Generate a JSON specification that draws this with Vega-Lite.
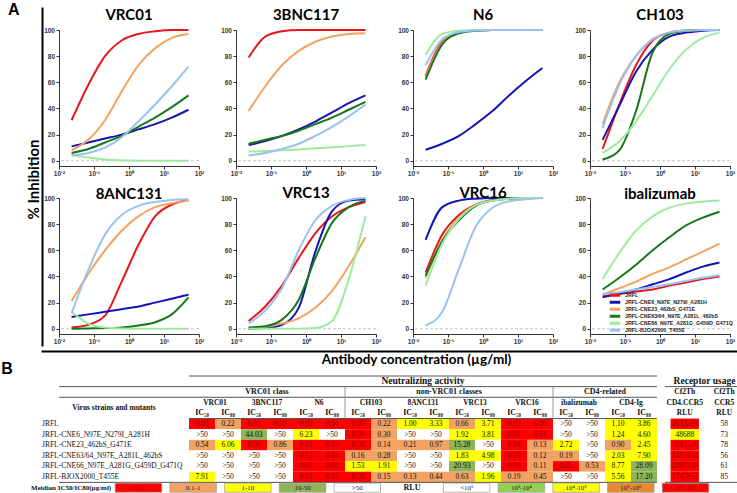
{
"$schema":"https://vega.github.io/schema/vega-lite/v6.json",
"background":"white",
"padding":{"left":1,"top":2,"right":0,"bottom":0},
"datasets":{
"curves":[
{"p":"VRC01","v":"JRFL","c":[0.0229,0.0686,0.206,0.617,1.85,5.56,16.7,50],"i":[31,58,80,92,97,99,100,100]},
{"p":"VRC01","v":"JRFL-CNE6_N97E_N279I_A281H","c":[0.0229,0.0686,0.206,0.617,1.85,5.56,16.7,50],"i":[11,14,17,20,24,28,33,39]},
{"p":"VRC01","v":"JRFL-CNE23_462bS_G471E","c":[0.0229,0.0686,0.206,0.617,1.85,5.56,16.7,50],"i":[8,16,31,53,73,86,94,97]},
{"p":"VRC01","v":"JRFL-CNE63/64_N97E_A281L_462bS","c":[0.0229,0.0686,0.206,0.617,1.85,5.56,16.7,50],"i":[6,9,14,19,26,33,41,50]},
{"p":"VRC01","v":"JRFL-CNE66_N97E_A281G_G459D_G471Q","c":[0.0229,0.0686,0.206,0.617,1.85,5.56,16.7,50],"i":[4.5,2.5,1,0.4,0.1,0,0,0]},
{"p":"VRC01","v":"JRFL-BJOX2000_T455E","c":[0.0229,0.0686,0.206,0.617,1.85,5.56,16.7,50],"i":[4,6,10,18,30,43,57,72]},
{"p":"3BNC117","v":"JRFL","c":[0.0229,0.0686,0.206,0.617,1.85,5.56,16.7,50],"i":[79,95,99,100,100,100,100,100]},
{"p":"3BNC117","v":"JRFL-CNE6_N97E_N279I_A281H","c":[0.0229,0.0686,0.206,0.617,1.85,5.56,16.7,50],"i":[12,15,19,24,30,37,44,50]},
{"p":"3BNC117","v":"JRFL-CNE23_462bS_G471E","c":[0.0229,0.0686,0.206,0.617,1.85,5.56,16.7,50],"i":[38,57,73,84,91,95,97,97.5]},
{"p":"3BNC117","v":"JRFL-CNE63/64_N97E_A281L_462bS","c":[0.0229,0.0686,0.206,0.617,1.85,5.56,16.7,50],"i":[13,16,19,23,28,33,39,45]},
{"p":"3BNC117","v":"JRFL-CNE66_N97E_A281G_G459D_G471Q","c":[0.0229,0.0686,0.206,0.617,1.85,5.56,16.7,50],"i":[7,7.5,8,8.7,9.5,10.3,11.2,12]},
{"p":"3BNC117","v":"JRFL-BJOX2000_T455E","c":[0.0229,0.0686,0.206,0.617,1.85,5.56,16.7,50],"i":[4,6,9,13,19,26,34,43]},
{"p":"N6","v":"JRFL","c":[0.0229,0.0686,0.206,0.617,1.85,5.56,16.7,50],"i":[65,91,98,99.7,100,100,100,100]},
{"p":"N6","v":"JRFL-CNE6_N97E_N279I_A281H","c":[0.0229,0.0686,0.206,0.617,1.85,5.56,16.7,50],"i":[8.4,13,19,28,38,50,61,71]},
{"p":"N6","v":"JRFL-CNE23_462bS_G471E","c":[0.0229,0.0686,0.206,0.617,1.85,5.56,16.7,50],"i":[64,90,98,99.6,100,100,100,100]},
{"p":"N6","v":"JRFL-CNE63/64_N97E_A281L_462bS","c":[0.0229,0.0686,0.206,0.617,1.85,5.56,16.7,50],"i":[62,89,97.5,99.5,100,100,100,100]},
{"p":"N6","v":"JRFL-CNE66_N97E_A281G_G459D_G471Q","c":[0.0229,0.0686,0.206,0.617,1.85,5.56,16.7,50],"i":[81,97,99.5,100,100,100,100,100]},
{"p":"N6","v":"JRFL-BJOX2000_T455E","c":[0.0229,0.0686,0.206,0.617,1.85,5.56,16.7,50],"i":[73,93,98.5,99.7,100,100,100,100]},
{"p":"CH103","v":"JRFL","c":[0.0229,0.0686,0.206,0.617,1.85,5.56,16.7,50],"i":[9,43,73,92,98,99.5,100,100]},
{"p":"CH103","v":"JRFL-CNE6_N97E_N279I_A281H","c":[0.0229,0.0686,0.206,0.617,1.85,5.56,16.7,50],"i":[16,42,68,85,95,98,99.5,100]},
{"p":"CH103","v":"JRFL-CNE23_462bS_G471E","c":[0.0229,0.0686,0.206,0.617,1.85,5.56,16.7,50],"i":[28,60,80,93,98,99.5,100,100]},
{"p":"CH103","v":"JRFL-CNE63/64_N97E_A281L_462bS","c":[0.0229,0.0686,0.206,0.617,1.85,5.56,16.7,50],"i":[1,8,38,83,97,99.5,100,100]},
{"p":"CH103","v":"JRFL-CNE66_N97E_A281G_G459D_G471Q","c":[0.0229,0.0686,0.206,0.617,1.85,5.56,16.7,50],"i":[6,15,30,50,70,85,94,98]},
{"p":"CH103","v":"JRFL-BJOX2000_T455E","c":[0.0229,0.0686,0.206,0.617,1.85,5.56,16.7,50],"i":[25,58,80,93,98,99.5,100,100]},
{"p":"8ANC131","v":"JRFL","c":[0.0229,0.0686,0.206,0.617,1.85,5.56,16.7,50],"i":[1,3,10,36,64,86,95,98.5]},
{"p":"8ANC131","v":"JRFL-CNE6_N97E_N279I_A281H","c":[0.0229,0.0686,0.206,0.617,1.85,5.56,16.7,50],"i":[9,11,13,15,17,20,23,26]},
{"p":"8ANC131","v":"JRFL-CNE23_462bS_G471E","c":[0.0229,0.0686,0.206,0.617,1.85,5.56,16.7,50],"i":[21,42,60,75,86,93,96,98]},
{"p":"8ANC131","v":"JRFL-CNE63/64_N97E_A281L_462bS","c":[0.0229,0.0686,0.206,0.617,1.85,5.56,16.7,50],"i":[0,0.2,0.5,1,2.5,5,11,24]},
{"p":"8ANC131","v":"JRFL-CNE66_N97E_A281G_G459D_G471Q","c":[0.0229,0.0686,0.206,0.617,1.85,5.56,16.7,50],"i":[13,4,1,0.2,0,0,0,0]},
{"p":"8ANC131","v":"JRFL-BJOX2000_T455E","c":[0.0229,0.0686,0.206,0.617,1.85,5.56,16.7,50],"i":[12,45,72,87,94,97,98.5,99]},
{"p":"VRC13","v":"JRFL","c":[0.0229,0.0686,0.206,0.617,1.85,5.56,16.7,50],"i":[6,17,33,54,73,86,93,97]},
{"p":"VRC13","v":"JRFL-CNE6_N97E_N279I_A281H","c":[0.0229,0.0686,0.206,0.617,1.85,5.56,16.7,50],"i":[0,0.5,3,16,59,90,98,99]},
{"p":"VRC13","v":"JRFL-CNE23_462bS_G471E","c":[0.0229,0.0686,0.206,0.617,1.85,5.56,16.7,50],"i":[0.5,1.5,4,8,16,29,48,70]},
{"p":"VRC13","v":"JRFL-CNE63/64_N97E_A281L_462bS","c":[0.0229,0.0686,0.206,0.617,1.85,5.56,16.7,50],"i":[1,2,7,22,54,81,93,98]},
{"p":"VRC13","v":"JRFL-CNE66_N97E_A281G_G459D_G471Q","c":[0.0229,0.0686,0.206,0.617,1.85,5.56,16.7,50],"i":[0,0,0,0,0.6,6,38,86]},
{"p":"VRC13","v":"JRFL-BJOX2000_T455E","c":[0.0229,0.0686,0.206,0.617,1.85,5.56,16.7,50],"i":[4,14,31,60,83,94,98.5,100]},
{"p":"VRC16","v":"JRFL","c":[0.0229,0.0686,0.206,0.617,1.85,5.56,16.7,50],"i":[43,72,87,95,98.5,99.5,100,100]},
{"p":"VRC16","v":"JRFL-CNE6_N97E_N279I_A281H","c":[0.0229,0.0686,0.206,0.617,1.85,5.56,16.7,50],"i":[68,93,98,99.5,100,100,100,100]},
{"p":"VRC16","v":"JRFL-CNE23_462bS_G471E","c":[0.0229,0.0686,0.206,0.617,1.85,5.56,16.7,50],"i":[39,68,85,94.5,98,99.5,100,100]},
{"p":"VRC16","v":"JRFL-CNE63/64_N97E_A281L_462bS","c":[0.0229,0.0686,0.206,0.617,1.85,5.56,16.7,50],"i":[40.5,67,83,94,98,99.5,100,100]},
{"p":"VRC16","v":"JRFL-CNE66_N97E_A281G_G459D_G471Q","c":[0.0229,0.0686,0.206,0.617,1.85,5.56,16.7,50],"i":[33,65,84,94.5,98,99.5,100,100]},
{"p":"VRC16","v":"JRFL-BJOX2000_T455E","c":[0.0229,0.0686,0.206,0.617,1.85,5.56,16.7,50],"i":[2.5,13,46,78,92.5,97.5,99,100]},
{"p":"ibalizumab","v":"JRFL","c":[0.0229,0.0686,0.206,0.617,1.85,5.56,16.7,50],"i":[25,26.5,28.5,30,33,35.4,38,40]},
{"p":"ibalizumab","v":"JRFL-CNE6_N97E_N279I_A281H","c":[0.0229,0.0686,0.206,0.617,1.85,5.56,16.7,50],"i":[24,27,30,34,38,43,47.5,50.6]},
{"p":"ibalizumab","v":"JRFL-CNE23_462bS_G471E","c":[0.0229,0.0686,0.206,0.617,1.85,5.56,16.7,50],"i":[26,31,36,42,47,53,59,65]},
{"p":"ibalizumab","v":"JRFL-CNE63/64_N97E_A281L_462bS","c":[0.0229,0.0686,0.206,0.617,1.85,5.56,16.7,50],"i":[30,39,49,60,70,79,85,89.5]},
{"p":"ibalizumab","v":"JRFL-CNE66_N97E_A281G_G459D_G471Q","c":[0.0229,0.0686,0.206,0.617,1.85,5.56,16.7,50],"i":[38,58,75,86,92.5,95.7,97.2,98]},
{"p":"ibalizumab","v":"JRFL-BJOX2000_T455E","c":[0.0229,0.0686,0.206,0.617,1.85,5.56,16.7,50],"i":[26.5,28,30,32,34,36.6,39,41]}
],
"cells":[
{"row":"JRFL","col":["VRC01 IC50","VRC01 IC80","3BNC117 IC50","3BNC117 IC80","N6 IC50","N6 IC80","CH103 IC50","CH103 IC80","8ANC131 IC50","8ANC131 IC80","VRC13 IC50","VRC13 IC80","VRC16 IC50","VRC16 IC80","ibalizumab IC50","ibalizumab IC80","CD4-Ig IC50","CD4-Ig IC80"],
 "t":["0.05","0.22","0.01","0.02","0.02","0.04","0.09","0.22","1.00","3.33","0.66","3.71","0.03","0.09",">50",">50","1.10","3.86"],
 "k":["<0.1","0.1-1","<0.1","<0.1","<0.1","<0.1","<0.1","0.1-1","1-10","1-10","0.1-1","1-10","<0.1","<0.1",">50",">50","1-10","1-10"]},
{"row":"JRFL-CNE6_N97E_N279I_A281H","col":["VRC01 IC50","VRC01 IC80","3BNC117 IC50","3BNC117 IC80","N6 IC50","N6 IC80","CH103 IC50","CH103 IC80","8ANC131 IC50","8ANC131 IC80","VRC13 IC50","VRC13 IC80","VRC16 IC50","VRC16 IC80","ibalizumab IC50","ibalizumab IC80","CD4-Ig IC50","CD4-Ig IC80"],
 "t":[">50",">50","44.03",">50","6.23",">50","0.09","0.30",">50",">50","1.92","3.81","0.01","0.04",">50",">50","1.24","4.60"],
 "k":[">50",">50","10-50",">50","1-10",">50","<0.1","0.1-1",">50",">50","1-10","1-10","<0.1","<0.1",">50",">50","1-10","1-10"]},
{"row":"JRFL-CNE23_462bS_G471E","col":["VRC01 IC50","VRC01 IC80","3BNC117 IC50","3BNC117 IC80","N6 IC50","N6 IC80","CH103 IC50","CH103 IC80","8ANC131 IC50","8ANC131 IC80","VRC13 IC50","VRC13 IC80","VRC16 IC50","VRC16 IC80","ibalizumab IC50","ibalizumab IC80","CD4-Ig IC50","CD4-Ig IC80"],
 "t":["0.54","6.06","0.06","0.86","0.01","0.04","0.05","0.14","0.21","0.97","15.28",">50","0.04","0.13","2.72",">50","0.90","2.45"],
 "k":["0.1-1","1-10","<0.1","0.1-1","<0.1","<0.1","<0.1","0.1-1","0.1-1","0.1-1","10-50",">50","<0.1","0.1-1","1-10",">50","0.1-1","1-10"]},
{"row":"JRFL-CNE63/64_N97E_A281L_462bS","col":["VRC01 IC50","VRC01 IC80","3BNC117 IC50","3BNC117 IC80","N6 IC50","N6 IC80","CH103 IC50","CH103 IC80","8ANC131 IC50","8ANC131 IC80","VRC13 IC50","VRC13 IC80","VRC16 IC50","VRC16 IC80","ibalizumab IC50","ibalizumab IC80","CD4-Ig IC50","CD4-Ig IC80"],
 "t":[">50",">50",">50",">50","0.02","0.04","0.16","0.28",">50",">50","1.83","4.98","0.03","0.12","0.19",">50","2.03","7.90"],
 "k":[">50",">50",">50",">50","<0.1","<0.1","0.1-1","0.1-1",">50",">50","1-10","1-10","<0.1","0.1-1","0.1-1",">50","1-10","1-10"]},
{"row":"JRFL-CNE66_N97E_A281G_G459D_G471Q","col":["VRC01 IC50","VRC01 IC80","3BNC117 IC50","3BNC117 IC80","N6 IC50","N6 IC80","CH103 IC50","CH103 IC80","8ANC131 IC50","8ANC131 IC80","VRC13 IC50","VRC13 IC80","VRC16 IC50","VRC16 IC80","ibalizumab IC50","ibalizumab IC80","CD4-Ig IC50","CD4-Ig IC80"],
 "t":[">50",">50",">50",">50","0.01","0.02","1.53","1.91",">50",">50","20.93",">50","0.04","0.11","0.05","0.53","8.77","28.09"],
 "k":[">50",">50",">50",">50","<0.1","<0.1","1-10","1-10",">50",">50","10-50",">50","<0.1","0.1-1","<0.1","0.1-1","1-10","10-50"]},
{"row":"JRFL-BJOX2000_T455E","col":["VRC01 IC50","VRC01 IC80","3BNC117 IC50","3BNC117 IC80","N6 IC50","N6 IC80","CH103 IC50","CH103 IC80","8ANC131 IC50","8ANC131 IC80","VRC13 IC50","VRC13 IC80","VRC16 IC50","VRC16 IC80","ibalizumab IC50","ibalizumab IC80","CD4-Ig IC50","CD4-Ig IC80"],
 "t":["7.91",">50",">50",">50","0.01","0.03","0.05","0.15","0.13","0.44","0.63","1.96","0.19","0.45",">50",">50","5.56","17.20"],
 "k":["1-10",">50",">50",">50","<0.1","<0.1","<0.1","0.1-1","0.1-1","0.1-1","0.1-1","1-10","0.1-1","0.1-1",">50",">50","1-10","10-50"]}
],
"hdr":[
{"row":"h0","col":"8ANC131 IC50","text":"Neutralizing activity"},
{"row":"h1","col":"3BNC117 IC50","text":"VRC01 class"},
{"row":"h1","col":"8ANC131 IC80","text":"non-VRC01 classes"},
{"row":"h1","col":"ibalizumab IC80","text":"CD4-related"},
{"row":"h2","col":"VRC01 IC50","text":"VRC01"},
{"row":"h2","col":"3BNC117 IC50","text":"3BNC117"},
{"row":"h2","col":"N6 IC50","text":"N6"},
{"row":"h2","col":"CH103 IC50","text":"CH103"},
{"row":"h2","col":"8ANC131 IC50","text":"8ANC131"},
{"row":"h2","col":"VRC13 IC50","text":"VRC13"},
{"row":"h2","col":"VRC16 IC50","text":"VRC16"},
{"row":"h2","col":"ibalizumab IC50","text":"ibalizumab"},
{"row":"h2","col":"CD4-Ig IC50","text":"CD4-Ig"}
],
"iclab":[
{"row":"h3","col":["VRC01 IC50","VRC01 IC80","3BNC117 IC50","3BNC117 IC80","N6 IC50","N6 IC80","CH103 IC50","CH103 IC80","8ANC131 IC50","8ANC131 IC80","VRC13 IC50","VRC13 IC80","VRC16 IC50","VRC16 IC80","ibalizumab IC50","ibalizumab IC80","CD4-Ig IC50","CD4-Ig IC80"],
 "text":["IC₅₀","IC₈₀","IC₅₀","IC₈₀","IC₅₀","IC₈₀","IC₅₀","IC₈₀","IC₅₀","IC₈₀","IC₅₀","IC₈₀","IC₅₀","IC₈₀","IC₅₀","IC₈₀","IC₅₀","IC₈₀"]}
],
"legitems":[
{"li":"<0.1"},{"li":"0.1-1"},{"li":"1-10"},{"li":"10-50"},{"li":">50"},{"li":"RLU"},
{"li":"<10³"},{"li":"10³-10⁴"},{"li":"10⁴-10⁵"},{"li":"10⁵-10⁶"},{"li":"10⁶-10⁷"}
],
"recCells":[
{"row":"JRFL","col":["CD4.CCR5","CCR5"],"t":["2033269","58"],"k":["10⁶-10⁷","<10³"]},
{"row":"JRFL-CNE6_N97E_N279I_A281H","col":["CD4.CCR5","CCR5"],"t":["48688","73"],"k":["10⁴-10⁵","<10³"]},
{"row":"JRFL-CNE23_462bS_G471E","col":["CD4.CCR5","CCR5"],"t":["1041546","78"],"k":["10⁶-10⁷","<10³"]},
{"row":"JRFL-CNE63/64_N97E_A281L_462bS","col":["CD4.CCR5","CCR5"],"t":["3451014","56"],"k":["10⁶-10⁷","<10³"]},
{"row":"JRFL-CNE66_N97E_A281G_G459D_G471Q","col":["CD4.CCR5","CCR5"],"t":["2097919","61"],"k":["10⁶-10⁷","<10³"]},
{"row":"JRFL-BJOX2000_T455E","col":["CD4.CCR5","CCR5"],"t":["1747852","85"],"k":["10⁶-10⁷","<10³"]}
],
"rhdr":[
{"row":"h1","col":"CD4.CCR5","text":"Cf2Th"},
{"row":"h1","col":"CCR5","text":"Cf2Th"},
{"row":"h2","col":"CD4.CCR5","text":"CD4.CCR5"},
{"row":"h2","col":"CCR5","text":"CCR5"},
{"row":"h3","col":"CD4.CCR5","text":"RLU"},
{"row":"h3","col":"CCR5","text":"RLU"}
]
},
"concat":[
{
"title":{"text":"A","anchor":"start","frame":"bounds","font":"Liberation Sans","fontSize":16,"fontWeight":"bold","offset":-10,"dx":-18},
"concat":[
{"title":{"text":"VRC01","offset":3},"width":140,"height":136,
 "layer":[
  {"data":{"values":[{}]},"mark":{"type":"rule","color":"#c8c8c8","strokeDash":[3,2],"strokeWidth":1},"encoding":{"y":{"datum":0,"type":"quantitative","scale":{"domain":[-141.6,117.6],"range":[316,-23],"nice":false,"zero":false},"axis":{"orient":"left","offset":17,"labels":false,"ticks":false,"domain":true,"domainWidth":2,"domainColor":"#000","title":null}}}},
  {"data":{"name":"curves"},"transform":[{"filter":"datum.p==='VRC01'"},{"flatten":["c","i"]}],"mark":{"type":"line","interpolate":"monotone","strokeWidth":2},
   "encoding":{
    "x":{"field":"c","type":"quantitative","scale":{"type":"log","domain":[0.01,100]},"axis":{"values":[0.01,0.1,1,10,100],"labelExpr":"datum.value<0.05?'10⁻²':datum.value<0.5?'10⁻¹':datum.value<5?'10⁰':datum.value<50?'10¹':'10²'","labelFlush":false,"title":null}},
    "y":{"field":"i","type":"quantitative","scale":{"domain":[-4,100],"nice":false},"axis":{"orient":"left","values":[0,20,40,60,80,100],"title":"% Inhibition","titleX":-26,"titleY":149,"titleAngle":270,"titleAlign":"center","titleBaseline":"middle","titleFont":"Lato","titleFontSize":15,"titleFontWeight":"bold"}},
    "color":{"field":"v","type":"nominal","scale":{"domain":["JRFL","JRFL-CNE6_N97E_N279I_A281H","JRFL-CNE23_462bS_G471E","JRFL-CNE63/64_N97E_A281L_462bS","JRFL-CNE66_N97E_A281G_G459D_G471Q","JRFL-BJOX2000_T455E"],"range":["#e8161b","#1414b4","#f2a35e","#17781b","#9eeb9e","#99c2ef"]},"legend":null}}}
 ],
 "resolve":{"scale":{"y":"independent"}}},
{"title":{"text":"3BNC117","offset":3},"width":140,"height":136,
 "layer":[
  {"data":{"values":[{}]},"mark":{"type":"rule","color":"#c8c8c8","strokeDash":[3,2],"strokeWidth":1},"encoding":{"y":{"datum":0,"type":"quantitative","scale":{"domain":[-4,100],"nice":false},"axis":{"values":[0,20,40,60,80,100],"title":null}}}},
  {"data":{"name":"curves"},"transform":[{"filter":"datum.p==='3BNC117'"},{"flatten":["c","i"]}],"mark":{"type":"line","interpolate":"monotone","strokeWidth":2},
   "encoding":{
    "x":{"field":"c","type":"quantitative","scale":{"type":"log","domain":[0.01,100]},"axis":{"values":[0.01,0.1,1,10,100],"labelExpr":"datum.value<0.05?'10⁻²':datum.value<0.5?'10⁻¹':datum.value<5?'10⁰':datum.value<50?'10¹':'10²'","labelFlush":false,"title":null}},
    "y":{"field":"i","type":"quantitative","scale":{"domain":[-4,100],"nice":false},"axis":{"values":[0,20,40,60,80,100],"title":null}},
    "color":{"field":"v","type":"nominal","scale":{"domain":["JRFL","JRFL-CNE6_N97E_N279I_A281H","JRFL-CNE23_462bS_G471E","JRFL-CNE63/64_N97E_A281L_462bS","JRFL-CNE66_N97E_A281G_G459D_G471Q","JRFL-BJOX2000_T455E"],"range":["#e8161b","#1414b4","#f2a35e","#17781b","#9eeb9e","#99c2ef"]},"legend":null}}}
 ]},
{"title":{"text":"N6","offset":3},"width":140,"height":136,
 "layer":[
  {"data":{"values":[{}]},"mark":{"type":"rule","color":"#c8c8c8","strokeDash":[3,2],"strokeWidth":1},"encoding":{"y":{"datum":0,"type":"quantitative","scale":{"domain":[-4,100],"nice":false},"axis":{"values":[0,20,40,60,80,100],"title":null}}}},
  {"data":{"name":"curves"},"transform":[{"filter":"datum.p==='N6'"},{"flatten":["c","i"]}],"mark":{"type":"line","interpolate":"monotone","strokeWidth":2},
   "encoding":{
    "x":{"field":"c","type":"quantitative","scale":{"type":"log","domain":[0.01,100]},"axis":{"values":[0.01,0.1,1,10,100],"labelExpr":"datum.value<0.05?'10⁻²':datum.value<0.5?'10⁻¹':datum.value<5?'10⁰':datum.value<50?'10¹':'10²'","labelFlush":false,"title":null}},
    "y":{"field":"i","type":"quantitative","scale":{"domain":[-4,100],"nice":false},"axis":{"values":[0,20,40,60,80,100],"title":null}},
    "color":{"field":"v","type":"nominal","scale":{"domain":["JRFL","JRFL-CNE6_N97E_N279I_A281H","JRFL-CNE23_462bS_G471E","JRFL-CNE63/64_N97E_A281L_462bS","JRFL-CNE66_N97E_A281G_G459D_G471Q","JRFL-BJOX2000_T455E"],"range":["#e8161b","#1414b4","#f2a35e","#17781b","#9eeb9e","#99c2ef"]},"legend":null}}}
 ]},
{"title":{"text":"CH103","offset":3},"width":140,"height":136,
 "layer":[
  {"data":{"values":[{}]},"mark":{"type":"rule","color":"#c8c8c8","strokeDash":[3,2],"strokeWidth":1},"encoding":{"y":{"datum":0,"type":"quantitative","scale":{"domain":[-4,100],"nice":false},"axis":{"values":[0,20,40,60,80,100],"title":null}}}},
  {"data":{"name":"curves"},"transform":[{"filter":"datum.p==='CH103'"},{"flatten":["c","i"]}],"mark":{"type":"line","interpolate":"monotone","strokeWidth":2},
   "encoding":{
    "x":{"field":"c","type":"quantitative","scale":{"type":"log","domain":[0.01,100]},"axis":{"values":[0.01,0.1,1,10,100],"labelExpr":"datum.value<0.05?'10⁻²':datum.value<0.5?'10⁻¹':datum.value<5?'10⁰':datum.value<50?'10¹':'10²'","labelFlush":false,"title":null}},
    "y":{"field":"i","type":"quantitative","scale":{"domain":[-4,100],"nice":false},"axis":{"values":[0,20,40,60,80,100],"title":null}},
    "color":{"field":"v","type":"nominal","scale":{"domain":["JRFL","JRFL-CNE6_N97E_N279I_A281H","JRFL-CNE23_462bS_G471E","JRFL-CNE63/64_N97E_A281L_462bS","JRFL-CNE66_N97E_A281G_G459D_G471Q","JRFL-BJOX2000_T455E"],"range":["#e8161b","#1414b4","#f2a35e","#17781b","#9eeb9e","#99c2ef"]},"legend":null}}}
 ]},
{"title":{"text":"8ANC131","offset":-7},"width":140,"height":136,
 "layer":[
  {"data":{"values":[{}]},"mark":{"type":"rule","color":"#c8c8c8","strokeDash":[3,2],"strokeWidth":1},"encoding":{"y":{"datum":0,"type":"quantitative","scale":{"domain":[-4,100],"nice":false},"axis":{"values":[0,20,40,60,80,100],"title":null}}}},
  {"data":{"name":"curves"},"transform":[{"filter":"datum.p==='8ANC131'"},{"flatten":["c","i"]}],"mark":{"type":"line","interpolate":"monotone","strokeWidth":2},
   "encoding":{
    "x":{"field":"c","type":"quantitative","scale":{"type":"log","domain":[0.01,100]},"axis":{"values":[0.01,0.1,1,10,100],"labelExpr":"datum.value<0.05?'10⁻²':datum.value<0.5?'10⁻¹':datum.value<5?'10⁰':datum.value<50?'10¹':'10²'","labelFlush":false,"title":null}},
    "y":{"field":"i","type":"quantitative","scale":{"domain":[-4,100],"nice":false},"axis":{"values":[0,20,40,60,80,100],"title":null}},
    "color":{"field":"v","type":"nominal","scale":{"domain":["JRFL","JRFL-CNE6_N97E_N279I_A281H","JRFL-CNE23_462bS_G471E","JRFL-CNE63/64_N97E_A281L_462bS","JRFL-CNE66_N97E_A281G_G459D_G471Q","JRFL-BJOX2000_T455E"],"range":["#e8161b","#1414b4","#f2a35e","#17781b","#9eeb9e","#99c2ef"]},"legend":null}}}
 ]},
{"title":{"text":"VRC13","offset":-7},"width":140,"height":136,
 "layer":[
  {"data":{"values":[{}]},"mark":{"type":"rule","color":"#c8c8c8","strokeDash":[3,2],"strokeWidth":1},"encoding":{"y":{"datum":0,"type":"quantitative","scale":{"domain":[-4,100],"nice":false},"axis":{"values":[0,20,40,60,80,100],"title":null}}}},
  {"data":{"name":"curves"},"transform":[{"filter":"datum.p==='VRC13'"},{"flatten":["c","i"]}],"mark":{"type":"line","interpolate":"monotone","strokeWidth":2},
   "encoding":{
    "x":{"field":"c","type":"quantitative","scale":{"type":"log","domain":[0.01,100]},"axis":{"values":[0.01,0.1,1,10,100],"labelExpr":"datum.value<0.05?'10⁻²':datum.value<0.5?'10⁻¹':datum.value<5?'10⁰':datum.value<50?'10¹':'10²'","labelFlush":false,"title":null}},
    "y":{"field":"i","type":"quantitative","scale":{"domain":[-4,100],"nice":false},"axis":{"values":[0,20,40,60,80,100],"title":null}},
    "color":{"field":"v","type":"nominal","scale":{"domain":["JRFL","JRFL-CNE6_N97E_N279I_A281H","JRFL-CNE23_462bS_G471E","JRFL-CNE63/64_N97E_A281L_462bS","JRFL-CNE66_N97E_A281G_G459D_G471Q","JRFL-BJOX2000_T455E"],"range":["#e8161b","#1414b4","#f2a35e","#17781b","#9eeb9e","#99c2ef"]},"legend":null}}}
 ]},
{"title":{"text":"VRC16","offset":-7},"width":140,"height":136,
 "layer":[
  {"data":{"values":[{}]},"mark":{"type":"rule","color":"#c8c8c8","strokeDash":[3,2],"strokeWidth":1},"encoding":{"y":{"datum":0,"type":"quantitative","scale":{"domain":[-4,100],"nice":false},"axis":{"values":[0,20,40,60,80,100],"title":null}}}},
  {"data":{"name":"curves"},"transform":[{"filter":"datum.p==='VRC16'"},{"flatten":["c","i"]}],"mark":{"type":"line","interpolate":"monotone","strokeWidth":2},
   "encoding":{
    "x":{"field":"c","type":"quantitative","scale":{"type":"log","domain":[0.01,100]},"axis":{"values":[0.01,0.1,1,10,100],"labelExpr":"datum.value<0.05?'10⁻²':datum.value<0.5?'10⁻¹':datum.value<5?'10⁰':datum.value<50?'10¹':'10²'","labelFlush":false,"title":null}},
    "y":{"field":"i","type":"quantitative","scale":{"domain":[-4,100],"nice":false},"axis":{"values":[0,20,40,60,80,100],"title":null}},
    "color":{"field":"v","type":"nominal","scale":{"domain":["JRFL","JRFL-CNE6_N97E_N279I_A281H","JRFL-CNE23_462bS_G471E","JRFL-CNE63/64_N97E_A281L_462bS","JRFL-CNE66_N97E_A281G_G459D_G471Q","JRFL-BJOX2000_T455E"],"range":["#e8161b","#1414b4","#f2a35e","#17781b","#9eeb9e","#99c2ef"]},"legend":null}}}
 ]},
{"title":{"text":"ibalizumab","offset":-7},"width":140,"height":136,
 "layer":[
  {"data":{"values":[{}]},"mark":{"type":"rule","color":"#c8c8c8","strokeDash":[3,2],"strokeWidth":1},"encoding":{"y":{"datum":0,"type":"quantitative","scale":{"domain":[-4,100],"nice":false},"axis":{"values":[0,20,40,60,80,100],"title":null}}}},
  {"data":{"name":"curves"},"transform":[{"filter":"datum.p==='ibalizumab'"},{"flatten":["c","i"]}],"mark":{"type":"line","interpolate":"monotone","strokeWidth":2},
   "encoding":{
    "x":{"field":"c","type":"quantitative","scale":{"type":"log","domain":[0.01,100]},"axis":{"values":[0.01,0.1,1,10,100],"labelExpr":"datum.value<0.05?'10⁻²':datum.value<0.5?'10⁻¹':datum.value<5?'10⁰':datum.value<50?'10¹':'10²'","labelFlush":false,"title":null}},
    "y":{"field":"i","type":"quantitative","scale":{"domain":[-4,100],"nice":false},"axis":{"values":[0,20,40,60,80,100],"title":null}},
    "color":{"field":"v","type":"nominal","scale":{"domain":["JRFL","JRFL-CNE6_N97E_N279I_A281H","JRFL-CNE23_462bS_G471E","JRFL-CNE63/64_N97E_A281L_462bS","JRFL-CNE66_N97E_A281G_G459D_G471Q","JRFL-BJOX2000_T455E"],"range":["#e8161b","#1414b4","#f2a35e","#17781b","#9eeb9e","#99c2ef"]},
     "legend":{"orient":"none","legendX":18,"legendY":94,"title":null,"symbolType":"stroke","symbolStrokeWidth":3,"symbolSize":110,"labelFontSize":5.3,"labelFont":"Liberation Sans","labelFontWeight":"bold","labelColor":"#222","rowPadding":0,"clipHeight":6.6,"labelOffset":3,"labelLimit":250,"padding":0}}}}
 ]}
],
"columns":4,
"bounds":"flush",
"spacing":{"row":32,"column":37},
"resolve":{"legend":{"color":"independent"}}
},
{
"hconcat":[
{
"title":{"text":"B","anchor":"start","frame":"bounds","font":"Liberation Sans","fontSize":16,"fontWeight":"bold","offset":-26,"dx":-30},
"width":598,"height":117,
"layer":[
 {"layer":[
  {"data":{"name":"cells"},"transform":[{"flatten":["col","t","k"]}],"mark":{"type":"rect"},
   "encoding":{
    "x":{"field":"col","type":"nominal","scale":{"domain":["L0","L1","L2","L3","L4","VRC01 IC50","VRC01 IC80","3BNC117 IC50","3BNC117 IC80","N6 IC50","N6 IC80","CH103 IC50","CH103 IC80","8ANC131 IC50","8ANC131 IC80","VRC13 IC50","VRC13 IC80","VRC16 IC50","VRC16 IC80","ibalizumab IC50","ibalizumab IC80","CD4-Ig IC50","CD4-Ig IC80"],"paddingInner":0,"paddingOuter":0},"axis":null},
    "y":{"field":"row","type":"nominal","scale":{"domain":["h0","h1","h2","h3","JRFL","JRFL-CNE6_N97E_N279I_A281H","JRFL-CNE23_462bS_G471E","JRFL-CNE63/64_N97E_A281L_462bS","JRFL-CNE66_N97E_A281G_G459D_G471Q","JRFL-BJOX2000_T455E","leg"],"paddingInner":0,"paddingOuter":0},"axis":null},
    "color":{"field":"k","type":"nominal","scale":{"domain":["<0.1","0.1-1","1-10","10-50",">50","<10³","10³-10⁴","10⁴-10⁵","10⁵-10⁶","10⁶-10⁷"],"range":["#ff0000","#f4a261","#ffff00","#8fb356","#ffffff","#ffffff","#92d050","#ffff00","#e8892e","#ff0000"]},"legend":null}}},
  {"data":{"name":"cells"},"transform":[{"flatten":["col","t","k"]}],"mark":{"type":"text","fontSize":7.5},
   "encoding":{
    "x":{"field":"col","type":"nominal","scale":{"domain":["L0","L1","L2","L3","L4","VRC01 IC50","VRC01 IC80","3BNC117 IC50","3BNC117 IC80","N6 IC50","N6 IC80","CH103 IC50","CH103 IC80","8ANC131 IC50","8ANC131 IC80","VRC13 IC50","VRC13 IC80","VRC16 IC50","VRC16 IC80","ibalizumab IC50","ibalizumab IC80","CD4-Ig IC50","CD4-Ig IC80"],"paddingInner":0,"paddingOuter":0},"axis":null},
    "y":{"field":"row","type":"nominal","scale":{"domain":["h0","h1","h2","h3","JRFL","JRFL-CNE6_N97E_N279I_A281H","JRFL-CNE23_462bS_G471E","JRFL-CNE63/64_N97E_A281L_462bS","JRFL-CNE66_N97E_A281G_G459D_G471Q","JRFL-BJOX2000_T455E","leg"],"paddingInner":0,"paddingOuter":0},"axis":null},
    "text":{"field":"t"},
    "color":{"condition":{"test":"datum.k==='<0.1'","value":"#9a0000"},"value":"#111"}}},
  {"data":{"name":"cells"},"transform":[{"flatten":["col","t","k"]},{"filter":"datum.col==='VRC01 IC50'"}],"mark":{"type":"text","fontSize":7.5,"align":"left","dx":-17},
   "encoding":{
    "x":{"datum":"L0","type":"nominal","bandPosition":0,"scale":{"domain":["L0","L1","L2","L3","L4","VRC01 IC50","VRC01 IC80","3BNC117 IC50","3BNC117 IC80","N6 IC50","N6 IC80","CH103 IC50","CH103 IC80","8ANC131 IC50","8ANC131 IC80","VRC13 IC50","VRC13 IC80","VRC16 IC50","VRC16 IC80","ibalizumab IC50","ibalizumab IC80","CD4-Ig IC50","CD4-Ig IC80"],"paddingInner":0,"paddingOuter":0},"axis":null},
    "y":{"field":"row","type":"nominal","scale":{"domain":["h0","h1","h2","h3","JRFL","JRFL-CNE6_N97E_N279I_A281H","JRFL-CNE23_462bS_G471E","JRFL-CNE63/64_N97E_A281L_462bS","JRFL-CNE66_N97E_A281G_G459D_G471Q","JRFL-BJOX2000_T455E","leg"],"paddingInner":0,"paddingOuter":0},"axis":null},
    "text":{"field":"row"}}},
  {"data":{"name":"hdr"},"transform":[{"filter":"datum.row==='h0'"}],"mark":{"type":"text","fontSize":9.5,"fontWeight":"bold"},
   "encoding":{
    "x":{"field":"col","type":"nominal","bandPosition":1,"scale":{"domain":["L0","L1","L2","L3","L4","VRC01 IC50","VRC01 IC80","3BNC117 IC50","3BNC117 IC80","N6 IC50","N6 IC80","CH103 IC50","CH103 IC80","8ANC131 IC50","8ANC131 IC80","VRC13 IC50","VRC13 IC80","VRC16 IC50","VRC16 IC80","ibalizumab IC50","ibalizumab IC80","CD4-Ig IC50","CD4-Ig IC80"],"paddingInner":0,"paddingOuter":0},"axis":null},
    "y":{"field":"row","type":"nominal","scale":{"domain":["h0","h1","h2","h3","JRFL","JRFL-CNE6_N97E_N279I_A281H","JRFL-CNE23_462bS_G471E","JRFL-CNE63/64_N97E_A281L_462bS","JRFL-CNE66_N97E_A281G_G459D_G471Q","JRFL-BJOX2000_T455E","leg"],"paddingInner":0,"paddingOuter":0},"axis":null},
    "text":{"field":"text"}}},
  {"data":{"name":"hdr"},"transform":[{"filter":"datum.row==='h1'"}],"mark":{"type":"text","fontSize":8,"fontWeight":"bold"},
   "encoding":{
    "x":{"field":"col","type":"nominal","bandPosition":1,"scale":{"domain":["L0","L1","L2","L3","L4","VRC01 IC50","VRC01 IC80","3BNC117 IC50","3BNC117 IC80","N6 IC50","N6 IC80","CH103 IC50","CH103 IC80","8ANC131 IC50","8ANC131 IC80","VRC13 IC50","VRC13 IC80","VRC16 IC50","VRC16 IC80","ibalizumab IC50","ibalizumab IC80","CD4-Ig IC50","CD4-Ig IC80"],"paddingInner":0,"paddingOuter":0},"axis":null},
    "y":{"field":"row","type":"nominal","scale":{"domain":["h0","h1","h2","h3","JRFL","JRFL-CNE6_N97E_N279I_A281H","JRFL-CNE23_462bS_G471E","JRFL-CNE63/64_N97E_A281L_462bS","JRFL-CNE66_N97E_A281G_G459D_G471Q","JRFL-BJOX2000_T455E","leg"],"paddingInner":0,"paddingOuter":0},"axis":null},
    "text":{"field":"text"}}},
  {"data":{"name":"hdr"},"transform":[{"filter":"datum.row==='h2'"}],"mark":{"type":"text","fontSize":7.5,"fontWeight":"bold"},
   "encoding":{
    "x":{"field":"col","type":"nominal","bandPosition":1,"scale":{"domain":["L0","L1","L2","L3","L4","VRC01 IC50","VRC01 IC80","3BNC117 IC50","3BNC117 IC80","N6 IC50","N6 IC80","CH103 IC50","CH103 IC80","8ANC131 IC50","8ANC131 IC80","VRC13 IC50","VRC13 IC80","VRC16 IC50","VRC16 IC80","ibalizumab IC50","ibalizumab IC80","CD4-Ig IC50","CD4-Ig IC80"],"paddingInner":0,"paddingOuter":0},"axis":null},
    "y":{"field":"row","type":"nominal","scale":{"domain":["h0","h1","h2","h3","JRFL","JRFL-CNE6_N97E_N279I_A281H","JRFL-CNE23_462bS_G471E","JRFL-CNE63/64_N97E_A281L_462bS","JRFL-CNE66_N97E_A281G_G459D_G471Q","JRFL-BJOX2000_T455E","leg"],"paddingInner":0,"paddingOuter":0},"axis":null},
    "text":{"field":"text"}}},
  {"data":{"name":"iclab"},"transform":[{"flatten":["col","text"]}],"mark":{"type":"text","fontSize":8,"fontWeight":"bold"},
   "encoding":{
    "x":{"field":"col","type":"nominal","scale":{"domain":["L0","L1","L2","L3","L4","VRC01 IC50","VRC01 IC80","3BNC117 IC50","3BNC117 IC80","N6 IC50","N6 IC80","CH103 IC50","CH103 IC80","8ANC131 IC50","8ANC131 IC80","VRC13 IC50","VRC13 IC80","VRC16 IC50","VRC16 IC80","ibalizumab IC50","ibalizumab IC80","CD4-Ig IC50","CD4-Ig IC80"],"paddingInner":0,"paddingOuter":0},"axis":null},
    "y":{"field":"row","type":"nominal","scale":{"domain":["h0","h1","h2","h3","JRFL","JRFL-CNE6_N97E_N279I_A281H","JRFL-CNE23_462bS_G471E","JRFL-CNE63/64_N97E_A281L_462bS","JRFL-CNE66_N97E_A281G_G459D_G471Q","JRFL-BJOX2000_T455E","leg"],"paddingInner":0,"paddingOuter":0},"axis":null},
    "text":{"field":"text"}}},
  {"data":{"values":[{"text":"Virus strains and mutants"}]},"mark":{"type":"text","fontSize":7.5,"fontWeight":"bold","dx":3},
   "encoding":{
    "x":{"datum":"L1","type":"nominal","bandPosition":1,"scale":{"domain":["L0","L1","L2","L3","L4","VRC01 IC50","VRC01 IC80","3BNC117 IC50","3BNC117 IC80","N6 IC50","N6 IC80","CH103 IC50","CH103 IC80","8ANC131 IC50","8ANC131 IC80","VRC13 IC50","VRC13 IC80","VRC16 IC50","VRC16 IC80","ibalizumab IC50","ibalizumab IC80","CD4-Ig IC50","CD4-Ig IC80"],"paddingInner":0,"paddingOuter":0},"axis":null},
    "y":{"datum":"h2","type":"nominal","bandPosition":1,"scale":{"domain":["h0","h1","h2","h3","JRFL","JRFL-CNE6_N97E_N279I_A281H","JRFL-CNE23_462bS_G471E","JRFL-CNE63/64_N97E_A281L_462bS","JRFL-CNE66_N97E_A281G_G459D_G471Q","JRFL-BJOX2000_T455E","leg"],"paddingInner":0,"paddingOuter":0},"axis":null},
    "text":{"field":"text"}}},
  {"data":{"values":[{}]},"mark":{"type":"rule","color":"#555","strokeWidth":1},
   "encoding":{
    "x":{"datum":"VRC01 IC50","type":"nominal","bandPosition":0,"scale":{"domain":["L0","L1","L2","L3","L4","VRC01 IC50","VRC01 IC80","3BNC117 IC50","3BNC117 IC80","N6 IC50","N6 IC80","CH103 IC50","CH103 IC80","8ANC131 IC50","8ANC131 IC80","VRC13 IC50","VRC13 IC80","VRC16 IC50","VRC16 IC80","ibalizumab IC50","ibalizumab IC80","CD4-Ig IC50","CD4-Ig IC80"],"paddingInner":0,"paddingOuter":0},"axis":null},
    "x2":{"datum":"CD4-Ig IC80","bandPosition":1},
    "y":{"datum":"h0","type":"nominal","bandPosition":0,"scale":{"domain":["h0","h1","h2","h3","JRFL","JRFL-CNE6_N97E_N279I_A281H","JRFL-CNE23_462bS_G471E","JRFL-CNE63/64_N97E_A281L_462bS","JRFL-CNE66_N97E_A281G_G459D_G471Q","JRFL-BJOX2000_T455E","leg"],"paddingInner":0,"paddingOuter":0},"axis":null}}},
  {"data":{"values":[{}]},"mark":{"type":"rule","color":"#555","strokeWidth":1},
   "encoding":{
    "x":{"datum":"L0","type":"nominal","bandPosition":0,"scale":{"domain":["L0","L1","L2","L3","L4","VRC01 IC50","VRC01 IC80","3BNC117 IC50","3BNC117 IC80","N6 IC50","N6 IC80","CH103 IC50","CH103 IC80","8ANC131 IC50","8ANC131 IC80","VRC13 IC50","VRC13 IC80","VRC16 IC50","VRC16 IC80","ibalizumab IC50","ibalizumab IC80","CD4-Ig IC50","CD4-Ig IC80"],"paddingInner":0,"paddingOuter":0},"axis":null},
    "x2":{"datum":"CD4-Ig IC80","bandPosition":1},
    "y":{"datum":"h1","type":"nominal","bandPosition":0,"scale":{"domain":["h0","h1","h2","h3","JRFL","JRFL-CNE6_N97E_N279I_A281H","JRFL-CNE23_462bS_G471E","JRFL-CNE63/64_N97E_A281L_462bS","JRFL-CNE66_N97E_A281G_G459D_G471Q","JRFL-BJOX2000_T455E","leg"],"paddingInner":0,"paddingOuter":0},"axis":null}}},
  {"data":{"values":[{}]},"mark":{"type":"rule","color":"#555","strokeWidth":1},
   "encoding":{
    "x":{"datum":"L0","type":"nominal","bandPosition":0,"scale":{"domain":["L0","L1","L2","L3","L4","VRC01 IC50","VRC01 IC80","3BNC117 IC50","3BNC117 IC80","N6 IC50","N6 IC80","CH103 IC50","CH103 IC80","8ANC131 IC50","8ANC131 IC80","VRC13 IC50","VRC13 IC80","VRC16 IC50","VRC16 IC80","ibalizumab IC50","ibalizumab IC80","CD4-Ig IC50","CD4-Ig IC80"],"paddingInner":0,"paddingOuter":0},"axis":null},
    "x2":{"datum":"CD4-Ig IC80","bandPosition":1},
    "y":{"datum":"h2","type":"nominal","bandPosition":0,"scale":{"domain":["h0","h1","h2","h3","JRFL","JRFL-CNE6_N97E_N279I_A281H","JRFL-CNE23_462bS_G471E","JRFL-CNE63/64_N97E_A281L_462bS","JRFL-CNE66_N97E_A281G_G459D_G471Q","JRFL-BJOX2000_T455E","leg"],"paddingInner":0,"paddingOuter":0},"axis":null}}},
  {"data":{"values":[{}]},"mark":{"type":"rule","color":"#555","strokeWidth":1},
   "encoding":{
    "x":{"datum":"VRC01 IC50","type":"nominal","bandPosition":0,"scale":{"domain":["L0","L1","L2","L3","L4","VRC01 IC50","VRC01 IC80","3BNC117 IC50","3BNC117 IC80","N6 IC50","N6 IC80","CH103 IC50","CH103 IC80","8ANC131 IC50","8ANC131 IC80","VRC13 IC50","VRC13 IC80","VRC16 IC50","VRC16 IC80","ibalizumab IC50","ibalizumab IC80","CD4-Ig IC50","CD4-Ig IC80"],"paddingInner":0,"paddingOuter":0},"axis":null},
    "x2":{"datum":"CD4-Ig IC80","bandPosition":1},
    "y":{"datum":"JRFL","type":"nominal","bandPosition":0,"scale":{"domain":["h0","h1","h2","h3","JRFL","JRFL-CNE6_N97E_N279I_A281H","JRFL-CNE23_462bS_G471E","JRFL-CNE63/64_N97E_A281L_462bS","JRFL-CNE66_N97E_A281G_G459D_G471Q","JRFL-BJOX2000_T455E","leg"],"paddingInner":0,"paddingOuter":0},"axis":null}}},
  {"data":{"values":[{}]},"mark":{"type":"rule","color":"#555","strokeWidth":1},
   "encoding":{
    "x":{"datum":"L0","type":"nominal","bandPosition":0,"scale":{"domain":["L0","L1","L2","L3","L4","VRC01 IC50","VRC01 IC80","3BNC117 IC50","3BNC117 IC80","N6 IC50","N6 IC80","CH103 IC50","CH103 IC80","8ANC131 IC50","8ANC131 IC80","VRC13 IC50","VRC13 IC80","VRC16 IC50","VRC16 IC80","ibalizumab IC50","ibalizumab IC80","CD4-Ig IC50","CD4-Ig IC80"],"paddingInner":0,"paddingOuter":0},"axis":null},
    "x2":{"datum":"CD4-Ig IC80","bandPosition":1},
    "y":{"datum":"leg","type":"nominal","bandPosition":0,"scale":{"domain":["h0","h1","h2","h3","JRFL","JRFL-CNE6_N97E_N279I_A281H","JRFL-CNE23_462bS_G471E","JRFL-CNE63/64_N97E_A281L_462bS","JRFL-CNE66_N97E_A281G_G459D_G471Q","JRFL-BJOX2000_T455E","leg"],"paddingInner":0,"paddingOuter":0},"axis":null}}},
  {"data":{"values":[{}]},"mark":{"type":"rule","color":"#999","strokeWidth":1},
   "encoding":{
    "x":{"datum":"N6 IC80","type":"nominal","bandPosition":1,"scale":{"domain":["L0","L1","L2","L3","L4","VRC01 IC50","VRC01 IC80","3BNC117 IC50","3BNC117 IC80","N6 IC50","N6 IC80","CH103 IC50","CH103 IC80","8ANC131 IC50","8ANC131 IC80","VRC13 IC50","VRC13 IC80","VRC16 IC50","VRC16 IC80","ibalizumab IC50","ibalizumab IC80","CD4-Ig IC50","CD4-Ig IC80"],"paddingInner":0,"paddingOuter":0},"axis":null},
    "y":{"datum":"h1","type":"nominal","bandPosition":0,"scale":{"domain":["h0","h1","h2","h3","JRFL","JRFL-CNE6_N97E_N279I_A281H","JRFL-CNE23_462bS_G471E","JRFL-CNE63/64_N97E_A281L_462bS","JRFL-CNE66_N97E_A281G_G459D_G471Q","JRFL-BJOX2000_T455E","leg"],"paddingInner":0,"paddingOuter":0},"axis":null},
    "y2":{"datum":"h3","bandPosition":1}}},
  {"data":{"values":[{}]},"mark":{"type":"rule","color":"#999","strokeWidth":1},
   "encoding":{
    "x":{"datum":"VRC16 IC80","type":"nominal","bandPosition":1,"scale":{"domain":["L0","L1","L2","L3","L4","VRC01 IC50","VRC01 IC80","3BNC117 IC50","3BNC117 IC80","N6 IC50","N6 IC80","CH103 IC50","CH103 IC80","8ANC131 IC50","8ANC131 IC80","VRC13 IC50","VRC13 IC80","VRC16 IC50","VRC16 IC80","ibalizumab IC50","ibalizumab IC80","CD4-Ig IC50","CD4-Ig IC80"],"paddingInner":0,"paddingOuter":0},"axis":null},
    "y":{"datum":"h1","type":"nominal","bandPosition":0,"scale":{"domain":["h0","h1","h2","h3","JRFL","JRFL-CNE6_N97E_N279I_A281H","JRFL-CNE23_462bS_G471E","JRFL-CNE63/64_N97E_A281L_462bS","JRFL-CNE66_N97E_A281G_G459D_G471Q","JRFL-BJOX2000_T455E","leg"],"paddingInner":0,"paddingOuter":0},"axis":null},
    "y2":{"datum":"h3","bandPosition":1}}}
 ]},
 {"layer":[
  {"data":{"name":"legitems"},"transform":[{"filter":"datum.li!=='RLU'"}],"mark":{"type":"rect","stroke":"#999","strokeWidth":0.7,"height":{"band":0.85}},
   "encoding":{
    "x":{"field":"li","type":"nominal","scale":{"domain":["<0.1","0.1-1","1-10","10-50",">50","RLU","<10³","10³-10⁴","10⁴-10⁵","10⁵-10⁶","10⁶-10⁷"],"range":[-18,685],"paddingInner":0.15,"paddingOuter":5.56,"align":0.678},
      "axis":{"orient":"top","offset":25,"labels":false,"ticks":false,"domain":true,"domainWidth":2,"domainColor":"#000","title":"Antibody concentration (µg/ml)","titleX":357,"titleY":8,"titleAngle":0,"titleAlign":"center","titleBaseline":"middle","titleFont":"Lato","titleFontSize":13.5,"titleFontWeight":"bold"}},
    "y":{"datum":"leg","type":"nominal","scale":{"domain":["h0","h1","h2","h3","JRFL","JRFL-CNE6_N97E_N279I_A281H","JRFL-CNE23_462bS_G471E","JRFL-CNE63/64_N97E_A281L_462bS","JRFL-CNE66_N97E_A281G_G459D_G471Q","JRFL-BJOX2000_T455E","leg"],"paddingInner":0,"paddingOuter":0},"axis":null},
    "color":{"field":"li","type":"nominal","scale":{"domain":["<0.1","0.1-1","1-10","10-50",">50","<10³","10³-10⁴","10⁴-10⁵","10⁵-10⁶","10⁶-10⁷"],"range":["#ff0000","#f4a261","#ffff00","#8fb356","#ffffff","#ffffff","#92d050","#ffff00","#e8892e","#ff0000"]},"legend":null}}},
  {"data":{"name":"legitems"},"transform":[{"filter":"datum.li!=='RLU'"}],"mark":{"type":"text","fontSize":7},
   "encoding":{
    "x":{"field":"li","type":"nominal","scale":{"domain":["<0.1","0.1-1","1-10","10-50",">50","RLU","<10³","10³-10⁴","10⁴-10⁵","10⁵-10⁶","10⁶-10⁷"],"range":[-18,685],"paddingInner":0.15,"paddingOuter":5.56,"align":0.678},
      "axis":{"orient":"top","offset":25,"labels":false,"ticks":false,"domain":true,"domainWidth":2,"domainColor":"#000","title":"Antibody concentration (µg/ml)","titleX":357,"titleY":8,"titleAngle":0,"titleAlign":"center","titleBaseline":"middle","titleFont":"Lato","titleFontSize":13.5,"titleFontWeight":"bold"}},
    "y":{"datum":"leg","type":"nominal","scale":{"domain":["h0","h1","h2","h3","JRFL","JRFL-CNE6_N97E_N279I_A281H","JRFL-CNE23_462bS_G471E","JRFL-CNE63/64_N97E_A281L_462bS","JRFL-CNE66_N97E_A281G_G459D_G471Q","JRFL-BJOX2000_T455E","leg"],"paddingInner":0,"paddingOuter":0},"axis":null},
    "text":{"field":"li"},
    "color":{"condition":{"test":"datum.li==='<0.1'||datum.li==='10⁶-10⁷'","value":"#9a0000"},"value":"#222"}}},
  {"data":{"name":"legitems"},"transform":[{"filter":"datum.li==='RLU'"}],"mark":{"type":"text","fontSize":8,"fontWeight":"bold"},
   "encoding":{
    "x":{"field":"li","type":"nominal","scale":{"domain":["<0.1","0.1-1","1-10","10-50",">50","RLU","<10³","10³-10⁴","10⁴-10⁵","10⁵-10⁶","10⁶-10⁷"],"range":[-18,685],"paddingInner":0.15,"paddingOuter":5.56,"align":0.678},
      "axis":{"orient":"top","offset":25,"labels":false,"ticks":false,"domain":true,"domainWidth":2,"domainColor":"#000","title":"Antibody concentration (µg/ml)","titleX":357,"titleY":8,"titleAngle":0,"titleAlign":"center","titleBaseline":"middle","titleFont":"Lato","titleFontSize":13.5,"titleFontWeight":"bold"}},
    "y":{"datum":"leg","type":"nominal","scale":{"domain":["h0","h1","h2","h3","JRFL","JRFL-CNE6_N97E_N279I_A281H","JRFL-CNE23_462bS_G471E","JRFL-CNE63/64_N97E_A281L_462bS","JRFL-CNE66_N97E_A281G_G459D_G471Q","JRFL-BJOX2000_T455E","leg"],"paddingInner":0,"paddingOuter":0},"axis":null},
    "text":{"field":"li"}}},
  {"data":{"values":[{"text":"Meidian IC50/IC80(µg/ml)"}]},"mark":{"type":"text","fontSize":7,"fontWeight":"bold","align":"right","dx":-4},
   "encoding":{
    "x":{"datum":"<0.1","type":"nominal","bandPosition":0,"scale":{"domain":["<0.1","0.1-1","1-10","10-50",">50","RLU","<10³","10³-10⁴","10⁴-10⁵","10⁵-10⁶","10⁶-10⁷"],"range":[-18,685],"paddingInner":0.15,"paddingOuter":5.56,"align":0.678},
      "axis":{"orient":"top","offset":25,"labels":false,"ticks":false,"domain":true,"domainWidth":2,"domainColor":"#000","title":"Antibody concentration (µg/ml)","titleX":357,"titleY":8,"titleAngle":0,"titleAlign":"center","titleBaseline":"middle","titleFont":"Lato","titleFontSize":13.5,"titleFontWeight":"bold"}},
    "y":{"datum":"leg","type":"nominal","scale":{"domain":["h0","h1","h2","h3","JRFL","JRFL-CNE6_N97E_N279I_A281H","JRFL-CNE23_462bS_G471E","JRFL-CNE63/64_N97E_A281L_462bS","JRFL-CNE66_N97E_A281G_G459D_G471Q","JRFL-BJOX2000_T455E","leg"],"paddingInner":0,"paddingOuter":0},"axis":null},
    "text":{"field":"text"}}}
 ]}
],
"resolve":{"scale":{"x":"independent"}}
},
{
"width":79,"height":117,
"layer":[
  {"data":{"name":"recCells"},"transform":[{"flatten":["col","t","k"]}],"mark":{"type":"rect","width":{"band":0.72}},
   "encoding":{
    "x":{"field":"col","type":"nominal","scale":{"domain":["CD4.CCR5","CCR5"],"paddingInner":0,"paddingOuter":0},"axis":null},
    "y":{"field":"row","type":"nominal","scale":{"domain":["h0","h1","h2","h3","JRFL","JRFL-CNE6_N97E_N279I_A281H","JRFL-CNE23_462bS_G471E","JRFL-CNE63/64_N97E_A281L_462bS","JRFL-CNE66_N97E_A281G_G459D_G471Q","JRFL-BJOX2000_T455E","leg"],"paddingInner":0,"paddingOuter":0},"axis":null},
    "color":{"field":"k","type":"nominal","scale":{"domain":["<0.1","0.1-1","1-10","10-50",">50","<10³","10³-10⁴","10⁴-10⁵","10⁵-10⁶","10⁶-10⁷"],"range":["#ff0000","#f4a261","#ffff00","#8fb356","#ffffff","#ffffff","#92d050","#ffff00","#e8892e","#ff0000"]},"legend":null}}},
  {"data":{"name":"recCells"},"transform":[{"flatten":["col","t","k"]}],"mark":{"type":"text","fontSize":7.5},
   "encoding":{
    "x":{"field":"col","type":"nominal","scale":{"domain":["CD4.CCR5","CCR5"],"paddingInner":0,"paddingOuter":0},"axis":null},
    "y":{"field":"row","type":"nominal","scale":{"domain":["h0","h1","h2","h3","JRFL","JRFL-CNE6_N97E_N279I_A281H","JRFL-CNE23_462bS_G471E","JRFL-CNE63/64_N97E_A281L_462bS","JRFL-CNE66_N97E_A281G_G459D_G471Q","JRFL-BJOX2000_T455E","leg"],"paddingInner":0,"paddingOuter":0},"axis":null},
    "text":{"field":"t"},
    "color":{"condition":{"test":"datum.k==='10⁶-10⁷'","value":"#9a0000"},"value":"#111"}}},
  {"data":{"values":[{"text":"Receptor usage"}]},"mark":{"type":"text","fontSize":9.5,"fontWeight":"bold"},
   "encoding":{
    "x":{"datum":"CD4.CCR5","type":"nominal","bandPosition":1,"scale":{"domain":["CD4.CCR5","CCR5"],"paddingInner":0,"paddingOuter":0},"axis":null},
    "y":{"datum":"h0","type":"nominal","scale":{"domain":["h0","h1","h2","h3","JRFL","JRFL-CNE6_N97E_N279I_A281H","JRFL-CNE23_462bS_G471E","JRFL-CNE63/64_N97E_A281L_462bS","JRFL-CNE66_N97E_A281G_G459D_G471Q","JRFL-BJOX2000_T455E","leg"],"paddingInner":0,"paddingOuter":0},"axis":null},
    "text":{"field":"text"}}},
  {"data":{"name":"rhdr"},"mark":{"type":"text","fontSize":7.5,"fontWeight":"bold"},
   "encoding":{
    "x":{"field":"col","type":"nominal","scale":{"domain":["CD4.CCR5","CCR5"],"paddingInner":0,"paddingOuter":0},"axis":null},
    "y":{"field":"row","type":"nominal","scale":{"domain":["h0","h1","h2","h3","JRFL","JRFL-CNE6_N97E_N279I_A281H","JRFL-CNE23_462bS_G471E","JRFL-CNE63/64_N97E_A281L_462bS","JRFL-CNE66_N97E_A281G_G459D_G471Q","JRFL-BJOX2000_T455E","leg"],"paddingInner":0,"paddingOuter":0},"axis":null},
    "text":{"field":"text"}}},
  {"data":{"values":[{}]},"mark":{"type":"rule","color":"#555","strokeWidth":1},
   "encoding":{
    "y":{"datum":"h1","type":"nominal","bandPosition":0,"scale":{"domain":["h0","h1","h2","h3","JRFL","JRFL-CNE6_N97E_N279I_A281H","JRFL-CNE23_462bS_G471E","JRFL-CNE63/64_N97E_A281L_462bS","JRFL-CNE66_N97E_A281G_G459D_G471Q","JRFL-BJOX2000_T455E","leg"],"paddingInner":0,"paddingOuter":0},"axis":null}}},
  {"data":{"values":[{}]},"mark":{"type":"rule","color":"#555","strokeWidth":1},
   "encoding":{
    "y":{"datum":"leg","type":"nominal","bandPosition":0,"scale":{"domain":["h0","h1","h2","h3","JRFL","JRFL-CNE6_N97E_N279I_A281H","JRFL-CNE23_462bS_G471E","JRFL-CNE63/64_N97E_A281L_462bS","JRFL-CNE66_N97E_A281G_G459D_G471Q","JRFL-BJOX2000_T455E","leg"],"paddingInner":0,"paddingOuter":0},"axis":null}}}
]
}
],
"bounds":"flush",
"spacing":8
}
],
"columns":1,
"align":"none",
"spacing":-18,
"resolve":{"scale":{"color":"independent"}},
"config":{
 "view":{"stroke":null},
 "font":"Liberation Sans",
 "title":{"font":"Lato","fontSize":15,"fontWeight":"bold","color":"#000","frame":"group","anchor":"middle"},
 "axis":{"grid":false,"labelFont":"Liberation Sans","labelFontSize":6.5,"labelFontWeight":"bold","labelColor":"#333","tickColor":"#333","domainColor":"#333","tickSize":3,"labelPadding":1.5},
 "text":{"font":"Liberation Serif","fontSize":7.5,"color":"#111"}
}
}
